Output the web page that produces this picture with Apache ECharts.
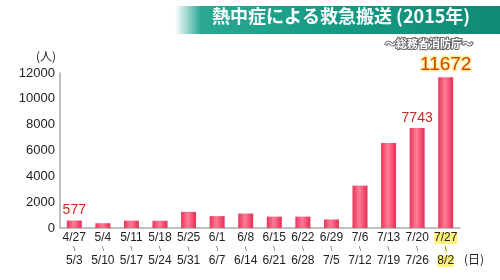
<!DOCTYPE html>
<html><head><meta charset="utf-8">
<script src="https://cdn.jsdelivr.net/npm/echarts@6/dist/echarts.min.js"></script>
<style>html,body{margin:0;padding:0;background:#fff}#c{width:500px;height:280px}</style>
</head><body><div id="c"></div>
<script>
const weekStart = ['4/27','5/4','5/11','5/18','5/25','6/1','6/8','6/15','6/22','6/29','7/6','7/13','7/20','7/27'];
const weekEnd = ['5/3','5/10','5/17','5/24','5/31','6/7','6/14','6/21','6/28','7/5','7/12','7/19','7/26','8/2'];
const values = [577, 370, 570, 560, 1250, 920, 1120, 880, 880, 660, 3280, 6580, 7743, 11672];
const labeledIdx = [0, 12, 13];
const yTicks = [0, 2000, 4000, 6000, 8000, 10000, 12000];
const titleText = '熱中症による救急搬送 (2015年)';
const sourceText = '〜総務省消防庁〜';

const cats = weekStart.map((s, i) => s + '|' + weekEnd[i]);
const FONT = '"Noto Sans CJK JP", "Noto Sans", sans-serif';
const LAT = '"Liberation Sans", Arial, sans-serif';
const barGrad = new echarts.graphic.LinearGradient(0, 0, 1, 0, [
  {offset: 0, color: '#e8345a'}, {offset: 0.45, color: '#ff7c98'}, {offset: 1, color: '#e32e55'}
]);
const data = values.map((v, i) => {
  const item = {value: v};
  if (labeledIdx.includes(i)) {
    const last = i === values.length - 1;
    item.label = {
      show: true, position: 'top', distance: 3,
      color: last ? '#d8400c' : '#c8281e',
      fontSize: last ? 19 : 14, fontWeight: 'normal',
      fontFamily: LAT,
      textBorderColor: last ? '#fff29a' : 'transparent', textBorderWidth: last ? 3 : 0
    };
  }
  return item;
});

const chart = echarts.init(document.getElementById('c'));
chart.setOption({
  animation: false,
  backgroundColor: '#ffffff',
  grid: {left: 60, right: 40, top: 73, bottom: 52},
  graphic: [
    {type: 'rect', shape: {x: 175, y: 6, width: 325, height: 28},
     style: {fill: new echarts.graphic.LinearGradient(0, 0, 1, 0, [
       {offset: 0, color: 'rgba(40,170,150,0)'}, {offset: 0.08, color: '#2aa893'},
       {offset: 0.5, color: '#159a84'}, {offset: 1, color: '#0f8a75'}])}},
    {type: 'text', left: 212, top: 7,
     style: {text: titleText, fill: '#fff', font: 'bold 18px ' + FONT}},
    {type: 'text', left: 384, top: 37,
     style: {text: sourceText, fill: '#fff', font: 'bold 11px ' + FONT, stroke: '#666', lineWidth: 2}},
    {type: 'text', left: 36, top: 50,
     style: {text: '(人)', fill: '#222', font: '12px ' + FONT}},
    {type: 'text', left: 464, top: 253,
     style: {text: '(日)', fill: '#222', font: '12px ' + FONT}}
  ],
  xAxis: {
    type: 'category', data: cats,
    axisLine: {lineStyle: {color: '#aaa', width: 1.5}},
    axisTick: {show: false},
    axisLabel: {
      interval: 0, margin: 3,
      formatter: (v, i) => {
        const [a, b] = v.split('|');
        const hl = i === cats.length - 1;
        return hl ? '{h|' + a + '}\n{sh|\\}\n{h|' + b + '}' : '{n|' + a + '}\n{s|\\}\n{n|' + b + '}';
      },
      rich: {
        n: {fontSize: 12, color: '#222', fontFamily: LAT, lineHeight: 14},
        s: {fontSize: 7, color: '#444', fontFamily: LAT, lineHeight: 9},
        h: {fontSize: 12, color: '#222', fontFamily: LAT, lineHeight: 14, backgroundColor: '#fff27a'},
        sh: {fontSize: 7, color: '#444', fontFamily: LAT, lineHeight: 9, backgroundColor: '#fff27a'}
      }
    }
  },
  yAxis: {
    type: 'value', min: 0, max: 12000, interval: 2000,
    axisLine: {show: true, lineStyle: {color: '#aaa', width: 1.5}},
    axisTick: {show: false},
    splitLine: {show: false},
    axisLabel: {color: '#222', fontSize: 13, fontFamily: LAT, margin: 5,
      formatter: v => yTicks.includes(v) ? String(v) : ''}
  },
  series: [{
    type: 'bar', data: data, barWidth: 15,
    itemStyle: {color: barGrad}
  }]
});
</script></body></html>
